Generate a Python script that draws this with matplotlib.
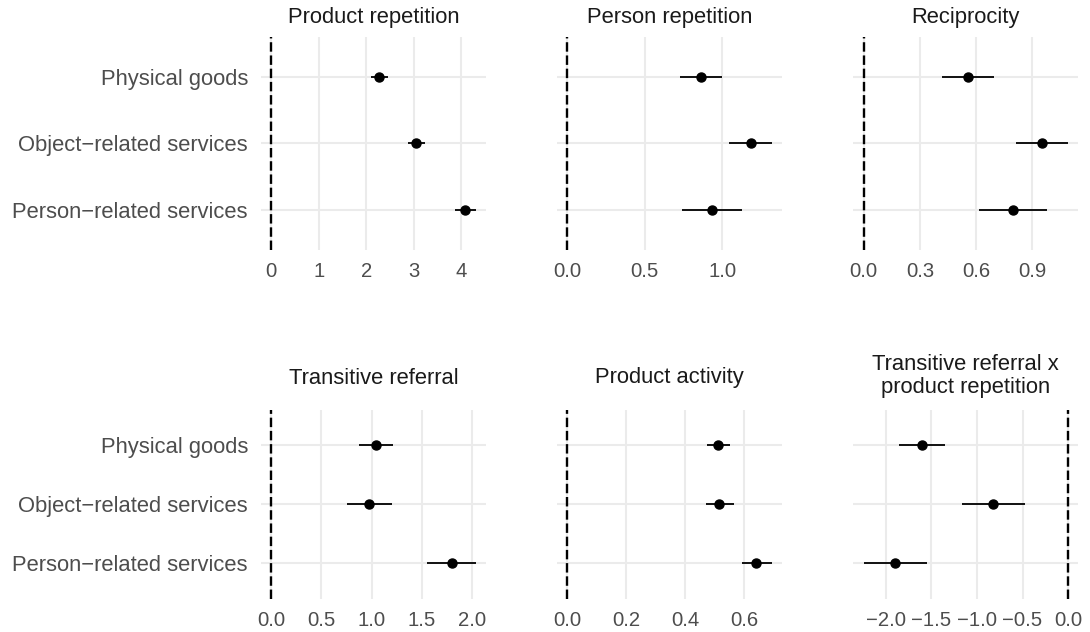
import matplotlib
matplotlib.use("Agg")
import matplotlib.pyplot as plt

plt.rcParams['font.family'] = ['Liberation Sans', 'DejaVu Sans']

categories = ["Physical goods", "Object\u2212related services", "Person\u2212related services"]

titles = ["Product repetition", "Person repetition", "Reciprocity",
          "Transitive referral", "Product activity",
          "Transitive referral x\nproduct repetition"]

est_product_rep = [2.28, 3.04, 4.08]
lo_product_rep = [2.10, 2.88, 3.88]
hi_product_rep = [2.46, 3.23, 4.31]

est_person_rep = [0.865, 1.182, 0.933]
lo_person_rep = [0.73, 1.04, 0.74]
hi_person_rep = [1.00, 1.32, 1.126]

est_recip = [0.556, 0.949, 0.797]
lo_recip = [0.42, 0.81, 0.614]
hi_recip = [0.695, 1.09, 0.98]

est_trans = [1.045, 0.973, 1.799]
lo_trans = [0.873, 0.752, 1.554]
hi_trans = [1.214, 1.198, 2.036]

est_activity = [0.512, 0.515, 0.641]
lo_activity = [0.474, 0.469, 0.594]
hi_activity = [0.553, 0.565, 0.694]

est_inter = [-1.606, -0.829, -1.901]
lo_inter = [-1.851, -1.163, -2.245]
hi_inter = [-1.354, -0.477, -1.548]

xticks_list = [[0, 1, 2, 3, 4], [0.0, 0.5, 1.0], [0.0, 0.3, 0.6, 0.9],
               [0.0, 0.5, 1.0, 1.5, 2.0], [0.0, 0.2, 0.4, 0.6],
               [-2.0, -1.5, -1.0, -0.5, 0.0]]
xtick_fmt = ["{:.0f}", "{:.1f}", "{:.1f}", "{:.1f}", "{:.1f}", "{:.1f}"]

series = [(est_product_rep, lo_product_rep, hi_product_rep),
          (est_person_rep, lo_person_rep, hi_person_rep),
          (est_recip, lo_recip, hi_recip),
          (est_trans, lo_trans, hi_trans),
          (est_activity, lo_activity, hi_activity),
          (est_inter, lo_inter, hi_inter)]

W, H = 1090, 632
fig = plt.figure(figsize=(W / 100, H / 100), dpi=100)

col_left = [261, 556.7, 853.3]
col_width = [225, 225.6, 225]
row_top = [36.7, 409.5]
row_bottom = [250, 598.8]
title_pad_px = [13.4, 13.4, 13.4, 26, 26, 16]

FS = 15.8
FS_X = 14.6
GRID = "#EBEBEB"
TXT = "#4D4D4D"

for k in range(6):
    r, c = divmod(k, 3)
    left = col_left[c] / W
    bottom = 1 - row_bottom[r] / H
    height = (row_bottom[r] - row_top[r]) / H
    ax = fig.add_axes([left, bottom, col_width[c] / W, height])
    est, lo, hi = series[k]
    ypos = list(range(len(categories)))

    allv = [0] + list(lo) + list(hi)
    vmin, vmax = min(allv), max(allv)
    span = vmax - vmin
    ax.set_xlim(vmin - 0.05 * span, vmax + 0.05 * span)
    ax.set_ylim(len(categories) - 1 + 0.6, -0.6)

    ax.set_xticks(xticks_list[k])
    ax.set_xticklabels([xtick_fmt[k].format(v).replace("-", "\u2212") for v in xticks_list[k]],
                       color=TXT, fontsize=FS_X)
    ax.set_yticks(ypos)
    if c == 0:
        ax.set_yticklabels(categories, color=TXT, fontsize=FS)
    else:
        ax.set_yticklabels([])
    ax.tick_params(axis="both", length=0)
    ax.tick_params(axis="x", pad=8.5)
    ax.tick_params(axis="y", pad=9.4)

    ax.grid(True, color=GRID, linewidth=1.5)
    ax.set_axisbelow(True)
    for s in ax.spines.values():
        s.set_visible(False)

    ax.axvline(0, color="black", linewidth=1.7, linestyle=(0, (4.0, 1.6)), zorder=2)
    ax.hlines(ypos, lo, hi, color="black", linewidth=1.3, zorder=3)
    ax.plot(est, ypos, "o", color="black", markersize=6.5, zorder=4)

    ax.set_title(titles[k], fontsize=FS, color="#1A1A1A", pad=title_pad_px[k] * 0.72,
                 linespacing=1.15)

fig.savefig("out.png", dpi=100)
